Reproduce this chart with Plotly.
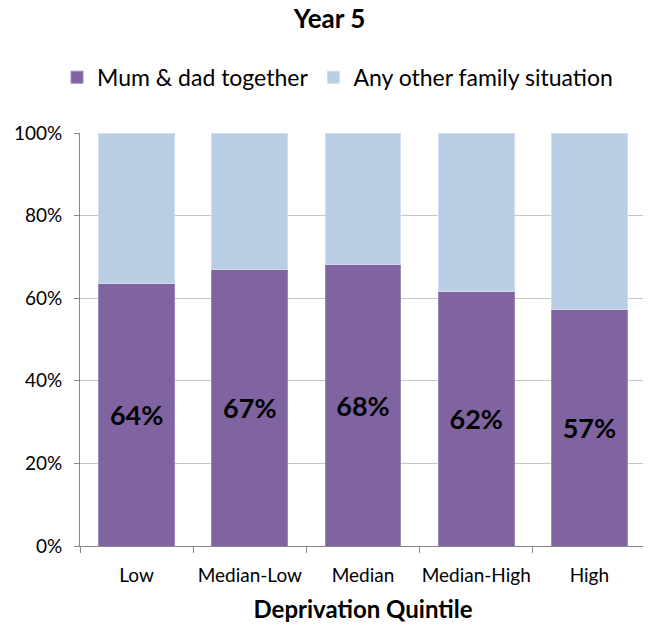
import plotly.graph_objects as go

quintiles = ["Low", "Median-Low", "Median", "Median-High", "High"]
mum_dad = [0.636, 0.669, 0.681, 0.617, 0.573]
other = [1 - v for v in mum_dad]

purple = "#8064A2"
light_blue = "#B9CDE5"
font = "Lato, Liberation Sans, sans-serif"

# page body has an 8px margin, so the figure is a bit smaller than the window
fig = go.Figure()
fig.add_trace(go.Bar(
    x=quintiles, y=mum_dad, name="Mum & dad together",
    marker=dict(color=purple, line=dict(color="#9E88BA", width=1)),
    texttemplate="<b>%{y:.0%}</b>", textposition="inside",
    insidetextanchor="middle",
    textfont=dict(size=27, color="black", family=font),
))
fig.add_trace(go.Bar(
    x=quintiles, y=other, name="Any other family situation",
    marker=dict(color=light_blue, line=dict(color="#CFDDEE", width=1)),
    hoverinfo="y",
))

fig.update_layout(
    barmode="stack",
    bargap=0.33,
    width=643, height=619,
    margin=dict(l=72, r=5, t=125, b=81, autoexpand=False),
    paper_bgcolor="white", plot_bgcolor="white",
    font=dict(family=font, size=19, color="black"),
    title=dict(text="<b>Year 5</b>", x=0.5, xanchor="center",
               y=0.997, yanchor="top", font=dict(size=26)),
    legend=dict(orientation="h", x=0.455, xanchor="center",
                y=1.135, yanchor="middle", font=dict(size=23),
                itemwidth=30, traceorder="normal"),
    uniformtext=dict(mode="show", minsize=10),
)
fig.update_yaxes(
    range=[0, 1], tickformat=".0%", dtick=0.2, automargin=False,
    showgrid=True, gridcolor="#C6C6C6", gridwidth=1,
    showline=True, linecolor="#878787", linewidth=1,
    ticks="outside", ticklen=5, tickcolor="#878787",
    tickfont=dict(size=19), zeroline=False, ticklabelstandoff=8,
)
fig.update_xaxes(
    title=dict(text="<b>Deprivation Quintile</b>", font=dict(size=24), standoff=16),
    showline=True, linecolor="#878787", linewidth=1, automargin=False,
    ticks="outside", ticklen=6, tickcolor="#878787", tickson="boundaries",
    tickfont=dict(size=19), tickangle=0, ticklabelstandoff=12,
)

fig.write_html("out.html")
